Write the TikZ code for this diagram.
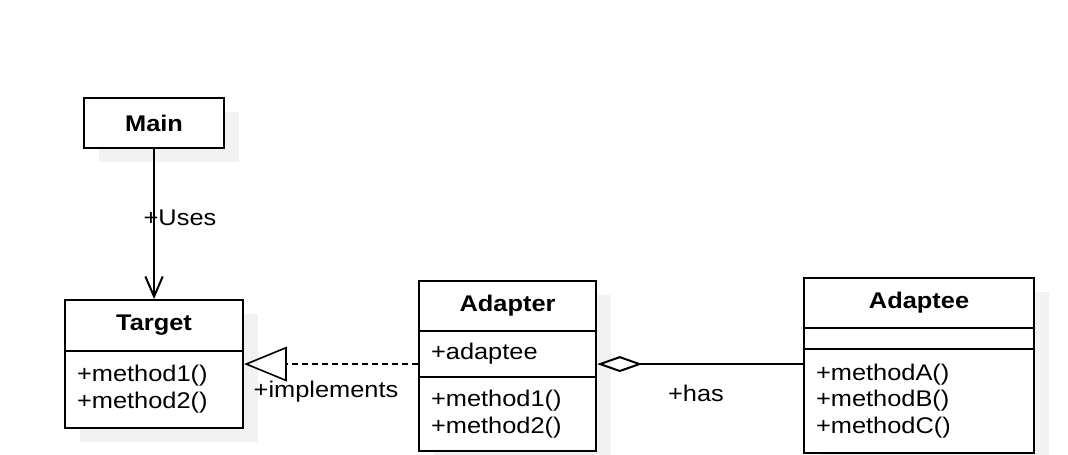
\documentclass[tikz,border=0pt]{standalone}
\usepackage{fontspec}
\setmainfont{Liberation Sans}[FakeStretch=1.12]
\usetikzlibrary{arrows.meta,shadows}
\definecolor{shadowgray}{HTML}{F2F2F2}
\tikzset{
  classbox/.style={draw, line width=1.6pt, fill=white, anchor=north west,
    drop shadow={shadow xshift=11pt, shadow yshift=-10.5pt, fill=shadowgray, opacity=1}},
  classname/.style={classbox, font=\fontsize{17}{20.2}\selectfont\bfseries},
  classpart/.style={classbox, align=left, inner xsep=9pt, font=\fontsize{17}{20.2}\selectfont},
  linklabel/.style={font=\fontsize{17}{20.2}\selectfont},
  uses/.style={line width=1.5pt, -{Straight Barb[length=15pt, width=13pt]}},
  realize/.style={line width=1.2pt, dashed, dash pattern=on 4.5pt off 3pt, -{Triangle[open, length=32pt, width=26pt]}},
  has/.style={line width=1.5pt, -{Diamond[open, length=34pt, width=12pt]}}
}

\begin{document}
\begin{tikzpicture}[x=0.75pt, y=-0.75pt]
      \useasboundingbox (0,0) rectangle (1068,454);
      % classes
      \node[classname, minimum width=105pt, minimum height=37.5pt] (main) at (83,97) {Main};

      \node[classname, minimum width=133.5pt, minimum height=38.25pt] (target) at (64,299) {Target};
      \node[classpart, text width=115.5pt, minimum height=57.75pt] (targetops) at (64,350) {+method1()\\+method2()};

      \node[classname, minimum width=132.75pt, minimum height=37.5pt] (adapter) at (418,280) {Adapter};
      \node[classpart, text width=114.75pt, minimum height=34.5pt] (adapterattr) at (418,330) {+adaptee};
      \node[classpart, text width=114.75pt, minimum height=55.5pt] (adapterops) at (418,376) {+method1()\\+method2()};

      \node[classname, minimum width=172.5pt, minimum height=37.5pt] (adaptee) at (803,277) {Adaptee};
      \node[classpart, text width=154.5pt, minimum height=15.75pt] (adapteeattr) at (803,327) {};
      \node[classpart, text width=154.5pt, minimum height=78pt] (adapteeops) at (803,348) {+methodA()\\+methodB()\\+methodC()};

      % relations
      \draw[uses] (main) -- (target);
      \node[linklabel] (useslabel) at (180,218) {+Uses};

      \coordinate (implfoot) at ([yshift=-7.5pt]adapterattr.west);
      \draw[realize] (implfoot) -- (targetops.east |- implfoot);
      \node[linklabel] (impllabel) at (326,392) {+implements};

      \coordinate (hasfoot) at ([yshift=-7.5pt]adapterattr.east);
      \draw[has] (adapteeops.west |- hasfoot) -- (hasfoot);
      \node[linklabel] (haslabel) at (696,393) {+has};
\end{tikzpicture}
\end{document}
